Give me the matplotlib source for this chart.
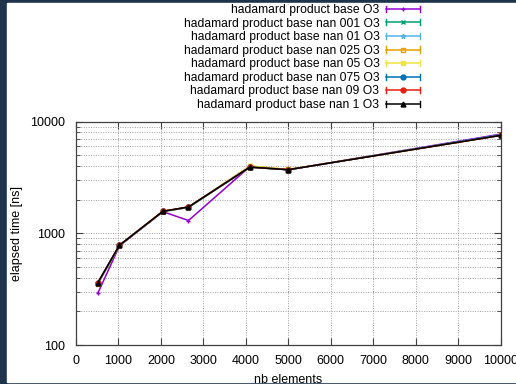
import numpy as np
import matplotlib.pyplot as plt
from matplotlib.lines import Line2D
from matplotlib.patches import Rectangle
from matplotlib.legend_handler import HandlerLine2D

plt.rcParams['font.family'] = ['Liberation Sans', 'DejaVu Sans']

nb_elements = [512, 1024, 2048, 2650, 4096, 5000, 10000]

base      = [290, 770, 1560, 1300, 3950, 3700, 7700]
nan_001   = [350, 775, 1565, 1700, 3900, 3700, 7550]
nan_01    = [352, 778, 1570, 1705, 3920, 3705, 7560]
nan_025   = [355, 780, 1570, 1710, 4000, 3720, 7520]
nan_05    = [356, 780, 1572, 1712, 3980, 3710, 7530]
nan_075   = [358, 781, 1570, 1715, 3910, 3700, 7600]
nan_09    = [359, 782, 1575, 1720, 3900, 3705, 7500]
nan_1     = [360, 781, 1572, 1717, 3910, 3705, 7500]

labels = ['hadamard product base O3',
          'hadamard product base nan 001 O3',
          'hadamard product base nan 01 O3',
          'hadamard product base nan 025 O3',
          'hadamard product base nan 05 O3',
          'hadamard product base nan 075 O3',
          'hadamard product base nan 09 O3',
          'hadamard product base nan 1 O3']
series = [base, nan_001, nan_01, nan_025, nan_05, nan_075, nan_09, nan_1]
colors = ['#9400d3', '#009e73', '#56b4e9', '#e69f00', '#f0e442', '#0072b2', '#e51e10', '#000000']
markers = ['+', 'x', '*', 's', 's', 'o', 'o', '^']
fills = ['full', 'full', 'full', 'none', 'full', 'full', 'full', 'full']


class CapHandler(HandlerLine2D):
    # gnuplot style key sample: line with end bars
    def create_artists(self, legend, orig_handle, xdescent, ydescent,
                       width, height, fontsize, trans):
        arts = super().create_artists(legend, orig_handle, xdescent, ydescent,
                                      width, height, fontsize, trans)
        ym = (height - ydescent) / 2.
        for xc in (-xdescent, width - xdescent):
            cap = Line2D([xc, xc], [ym - 2.2, ym + 2.2], color=orig_handle.get_color(),
                         lw=1.0, transform=trans)
            arts.append(cap)
        return arts


fig = plt.figure(figsize=(5.16, 3.84), dpi=100)
fig.patch.set_facecolor('#1d344b')
fig.patches.append(Rectangle((7 / 516, 2 / 384), 1, 1 - 5 / 384,
                             transform=fig.transFigure, color='white', zorder=-10))

ax = fig.add_axes([76 / 516, 1 - 345 / 384, 424.5 / 516, 223.5 / 384])

handles = []
for y, c, m, f, lab in zip(series, colors, markers, fills, labels):
    ln, = ax.plot(nb_elements, y, color=c, marker=m, fillstyle=f, ms=3.5,
                  mew=1.0, lw=1.1, label=lab)
    handles.append(ln)

ax.set_yscale('log')
ax.set_xlim(0, 10000)
ax.set_ylim(100, 10000)
ax.set_xticks(range(0, 10001, 1000))
ax.set_yticks([100, 1000, 10000])
ax.set_yticklabels(['100', '1000', '10000'])
ax.tick_params(which='both', direction='in', top=True, right=True, labelsize=9,
               color='#404040')
ax.tick_params(which='major', length=5)
ax.tick_params(which='minor', length=3)
ax.tick_params(axis='x', pad=7)
ax.tick_params(axis='y', pad=8)
ax.grid(which='major', color='#a0a0a0', ls=(0, (1, 1.5)), lw=0.7)
ax.grid(which='minor', axis='y', color='#a0a0a0', ls=(0, (1, 1.5)), lw=0.7)
for s in ax.spines.values():
    s.set_color('#404040')
    s.set_linewidth(0.9)

ax.set_xlabel('nb elements', fontsize=9, labelpad=5)
ax.set_ylabel('elapsed time [ns]', fontsize=9, labelpad=5)

fig.legend(handles=handles, loc='upper right', bbox_to_anchor=(426 / 516, 1 + 2 / 384),
           frameon=False, markerfirst=False, fontsize=8.7, borderpad=0,
           handlelength=2.8, handletextpad=0.55, labelspacing=0.13,
           handler_map={Line2D: CapHandler()})

fig.savefig('out.png', dpi=100)
